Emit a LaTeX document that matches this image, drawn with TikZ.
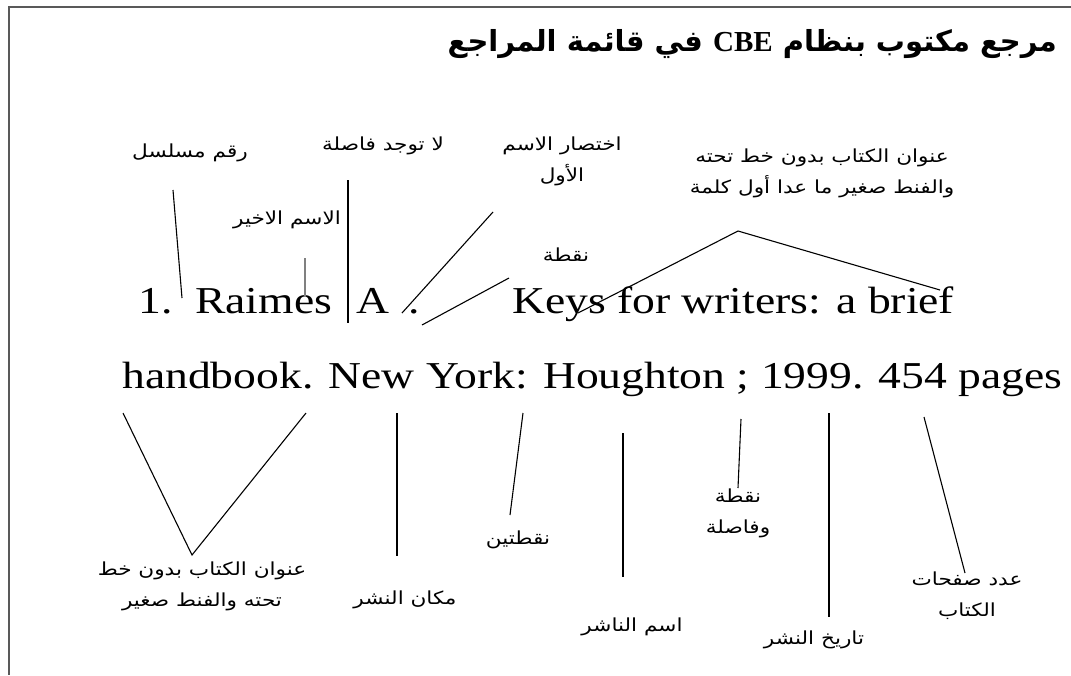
\documentclass[tikz,border=0pt]{standalone}
\usepackage{fontspec}
\usepackage{graphicx}
\setmainfont{Liberation Serif}
\newfontfamily\arabicfont[Script=Arabic]{DejaVu Sans}
\TeXXeTstate=1
\usetikzlibrary{calc}

\newcommand{\wide}[1]{\scalebox{1.2}[1]{#1}}
\newcommand{\artxt}[1]{\wide{\arabicfont\beginR #1\endR}}

\tikzset{
  reftext/.style={inner sep=0pt, anchor=base west, font=\fontsize{38}{40}\selectfont},
  arlabel/.style={inner sep=0pt, align=center, font=\fontsize{18}{31}\selectfont},
  pointer/.style={line width=1.1pt},
}

\begin{document}
\begin{tikzpicture}[x=1pt,y=-1pt]
	\useasboundingbox (0,0) rectangle (1071,675);

	% Frame
	\draw[line width=2pt, color=black!65] (1071,6.5) -- (9,6.5) -- (9,675);

	% Title
	\node[anchor=east, inner sep=0pt] (heading) at (1057,44)
		{\arabicfont\bfseries\fontsize{29}{34}\selectfont\beginR مرجع مكتوب بنظام \beginL{\rmfamily CBE}\endL{} في قائمة المراجع\endR};

	% Reference line 1
	\node[reftext] (num) at (138,313) {\wide{1.}};
	\node[reftext] (surname) at (195,313) {\wide{Raimes}};
	\node[reftext] (initial) at (356,313) {\wide{A}};
	\node[reftext] (initialdot) at (408,313) {\wide{.}};
	\node[reftext] (booktitle) at (512,313) {\wide{Keys for writers: a brief}};

	% Reference line 2
	\node[reftext] (rest) at (122,388) {\wide{handbook. New York: Houghton ; 1999. 454 pages}};

	% Labels above
	\node[arlabel] (lblserial) at (190,153) {\artxt{رقم مسلسل}};
	\node[arlabel] (lblnocomma) at (383,146) {\artxt{لا توجد فاصلة}};
	\node[arlabel] (lblinitial) at (562,161) {\artxt{اختصار الاسم}\\\artxt{الأول}};
	\node[arlabel] (lbltitle) at (822,173) {\artxt{عنوان الكتاب بدون خط تحته}\\\artxt{والفنط صغير ما عدا أول كلمة}};
	\node[arlabel] (lblsurname) at (287,220) {\artxt{الاسم الاخير}};
	\node[arlabel] (lbldot) at (566,255) {\artxt{نقطة}};

	% Labels below
	\node[arlabel] (lbltitlebelow) at (202,586) {\artxt{عنوان الكتاب بدون خط}\\\artxt{تحته والفنط صغير}};
	\node[arlabel] (lblplace) at (405,600) {\artxt{مكان النشر}};
	\node[arlabel] (lblcolon) at (518,540) {\artxt{نقطتين}};
	\node[arlabel] (lblpublisher) at (632,627) {\artxt{اسم الناشر}};
	\node[arlabel] (lblsemi) at (738,513) {\artxt{نقطة}\\\artxt{وفاصلة}};
	\node[arlabel] (lbldate) at (814,640) {\artxt{تاريخ النشر}};
	\node[arlabel] (lblpages) at (967,596) {\artxt{عدد صفحات}\\\artxt{الكتاب}};

	% Pointers above
	\coordinate (serialtop) at (173,190);
	\coordinate (serialbot) at (182,298);
	\draw[pointer] (serialtop) -- (serialbot);

	\coordinate (nocommatop) at (348,180);
	\coordinate (nocommabot) at (348,323);
	\draw[pointer] (nocommatop) -- (nocommabot);

	\coordinate (surnametop) at (305,258);
	\coordinate (surnamebot) at (305,297);
	\draw[pointer, color=gray] (surnametop) -- (surnamebot);

	\coordinate (initialtop) at (493,212);
	\coordinate (initialbot) at (402,313);
	\draw[pointer] (initialtop) -- (initialbot);

	\coordinate (dottop) at (509,278);
	\coordinate (dotbot) at (422,325);
	\draw[pointer] (dottop) -- (dotbot);

	\coordinate (keysleft) at (578,313);
	\coordinate (keysapex) at (738,231);
	\coordinate (keysright) at (940,290);
	\draw[pointer] (keysleft) -- (keysapex) -- (keysright);

	% Pointers below
	\coordinate (hbleft) at (123,413);
	\coordinate (hbapex) at (192,555);
	\coordinate (hbright) at (306,413);
	\draw[pointer] (hbleft) -- (hbapex) -- (hbright);

	\coordinate (placetop) at (397,413);
	\coordinate (placebot) at (397,556);
	\draw[pointer] (placetop) -- (placebot);

	\coordinate (colontop) at (523,413);
	\coordinate (colonbot) at (510,515);
	\draw[pointer] (colontop) -- (colonbot);

	\coordinate (pubtop) at (623,433);
	\coordinate (pubbot) at (623,577);
	\draw[pointer] (pubtop) -- (pubbot);

	\coordinate (semitop) at (741,419);
	\coordinate (semibot) at (738,488);
	\draw[pointer] (semitop) -- (semibot);

	\coordinate (datetop) at (829,413);
	\coordinate (datebot) at (829,617);
	\draw[pointer] (datetop) -- (datebot);

	\coordinate (pagestop) at (924,417);
	\coordinate (pagesbot) at (965,573);
	\draw[pointer] (pagestop) -- (pagesbot);

\end{tikzpicture}
\end{document}
